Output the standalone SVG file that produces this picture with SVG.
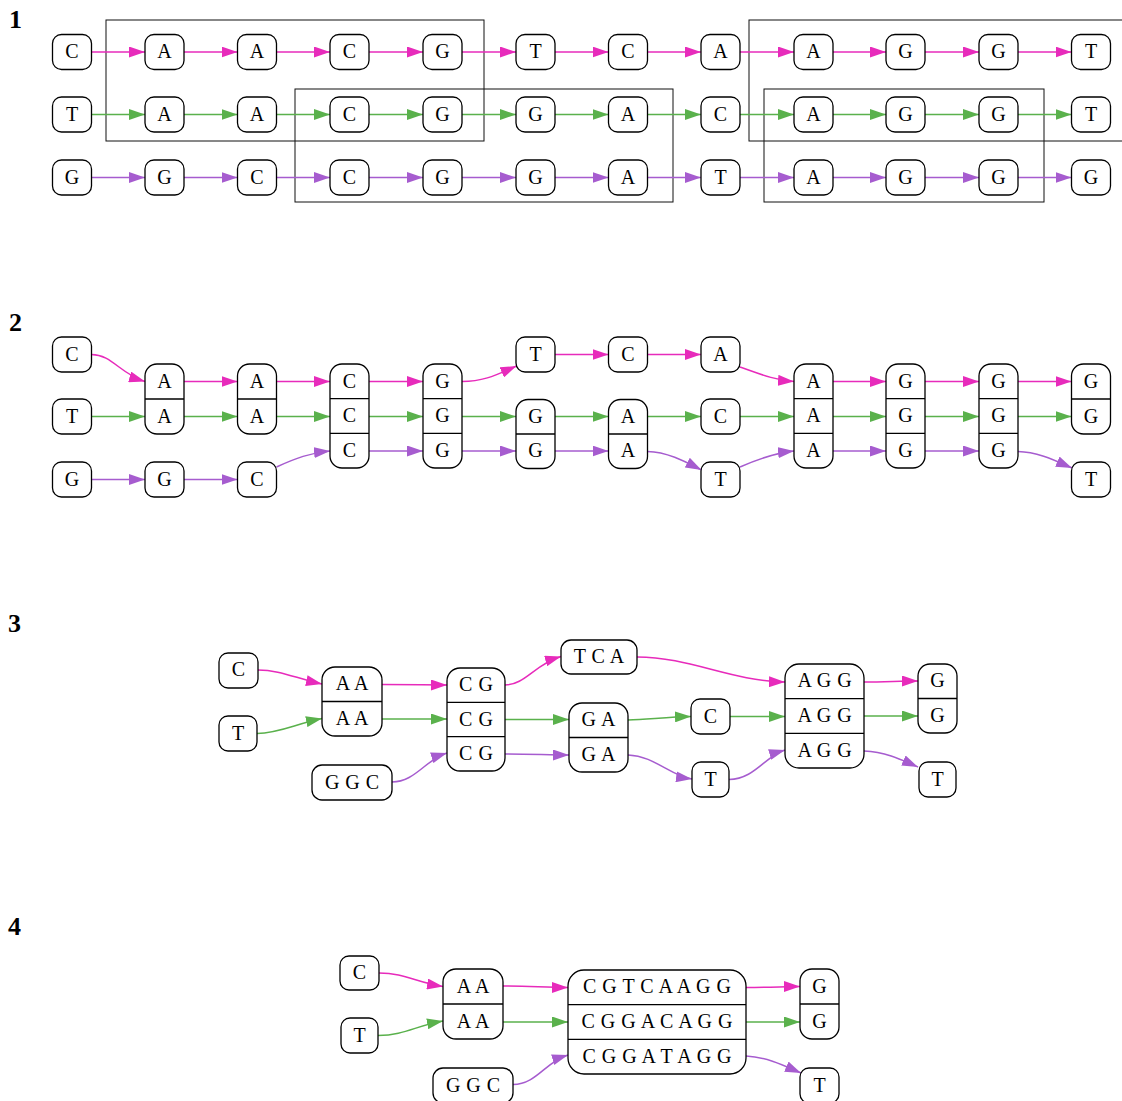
<svg xmlns="http://www.w3.org/2000/svg" width="1122" height="1101" viewBox="0 0 1122 1101">
<style>
.n rect{fill:#fff;stroke:#000;stroke-width:1.3}
.n line{stroke:#000;stroke-width:1.3}
text{font-family:"Liberation Serif","Times New Roman",serif;font-size:20px;text-anchor:middle;fill:#000;word-spacing:1px}
.n text{transform:translateY(-1px)}
.lbl{font-weight:bold;font-size:26px;text-anchor:start}
.box{fill:none;stroke:#111;stroke-width:1}
.e path{fill:none;stroke-width:1.5}
.m{stroke:#e72bbb;marker-end:url(#am)}
.g{stroke:#5ab14c;marker-end:url(#ag)}
.p{stroke:#a65ccf;marker-end:url(#ap)}
</style>
<defs>
<marker id="am" markerWidth="16" markerHeight="11" refX="16" refY="5.5" orient="auto" markerUnits="userSpaceOnUse"><path d="M0,0 L16,5.5 L0,11 z" fill="#e72bbb"/></marker>
<marker id="ag" markerWidth="16" markerHeight="11" refX="16" refY="5.5" orient="auto" markerUnits="userSpaceOnUse"><path d="M0,0 L16,5.5 L0,11 z" fill="#5ab14c"/></marker>
<marker id="ap" markerWidth="16" markerHeight="11" refX="16" refY="5.5" orient="auto" markerUnits="userSpaceOnUse"><path d="M0,0 L16,5.5 L0,11 z" fill="#a65ccf"/></marker>
</defs>
<rect width="1122" height="1101" fill="#fff"/>

<g id="labels">
<text class="lbl" x="9" y="28">1</text>
<text class="lbl" x="9" y="331">2</text>
<text class="lbl" x="8" y="632">3</text>
<text class="lbl" x="8" y="935">4</text>
</g>

<g id="clusters">
<rect class="box" x="106" y="20" width="378" height="121"/>
<rect class="box" x="295" y="89" width="378" height="113"/>
<rect class="box" x="749" y="20" width="380" height="121"/>
<rect class="box" x="764" y="89" width="280" height="113"/>
</g>

<g id="connectors" class="e">
<!-- section 1 -->
<path class="m" d="M91.5,52H145"/><path class="m" d="M184,52H237.5"/><path class="m" d="M276.5,52H330"/><path class="m" d="M369,52H423"/><path class="m" d="M462,52H516"/><path class="m" d="M555,52H608.5"/><path class="m" d="M647.5,52H701"/><path class="m" d="M740,52H794"/><path class="m" d="M833,52H886"/><path class="m" d="M925,52H979"/><path class="m" d="M1018,52H1071.5"/>
<path class="g" d="M91.5,114.5H145"/><path class="g" d="M184,114.5H237.5"/><path class="g" d="M276.5,114.5H330"/><path class="g" d="M369,114.5H423"/><path class="g" d="M462,114.5H516"/><path class="g" d="M555,114.5H608.5"/><path class="g" d="M647.5,114.5H701"/><path class="g" d="M740,114.5H794"/><path class="g" d="M833,114.5H886"/><path class="g" d="M925,114.5H979"/><path class="g" d="M1018,114.5H1071.5"/>
<path class="p" d="M91.5,177.5H145"/><path class="p" d="M184,177.5H237.5"/><path class="p" d="M276.5,177.5H330"/><path class="p" d="M369,177.5H423"/><path class="p" d="M462,177.5H516"/><path class="p" d="M555,177.5H608.5"/><path class="p" d="M647.5,177.5H701"/><path class="p" d="M740,177.5H794"/><path class="p" d="M833,177.5H886"/><path class="p" d="M925,177.5H979"/><path class="p" d="M1018,177.5H1071.5"/>
<!-- section 2 -->
<path class="m" d="M91.5,354.5C112,354.5 120,374 145,381.5"/>
<path class="m" d="M184,381.5H237.5"/><path class="m" d="M276.5,381.5H330"/><path class="m" d="M369,381.5H423"/>
<path class="m" d="M462,381.5C485,381.5 498,374 516.5,366"/>
<path class="m" d="M555,354.5H608.5"/><path class="m" d="M647.5,354.5H701"/>
<path class="m" d="M740,367C760,374 774,380 794,381.5"/>
<path class="m" d="M833,381.5H886"/><path class="m" d="M925,381.5H979"/><path class="m" d="M1018,381.5H1071.5"/>
<path class="g" d="M91.5,416.5H145"/><path class="g" d="M184,416.5H237.5"/><path class="g" d="M276.5,416.5H330"/><path class="g" d="M369,416.5H423"/><path class="g" d="M462,416.5H516"/><path class="g" d="M555,416.5H608.5"/><path class="g" d="M647.5,416.5H701"/><path class="g" d="M740,416.5H794"/><path class="g" d="M833,416.5H886"/><path class="g" d="M925,416.5H979"/><path class="g" d="M1018,416.5H1071.5"/>
<path class="p" d="M91.5,479.5H145"/><path class="p" d="M184,479.5H237.5"/>
<path class="p" d="M276.5,467C296,458 310,453 330,451"/>
<path class="p" d="M369,451H423"/><path class="p" d="M462,451H516"/><path class="p" d="M555,451H608.5"/>
<path class="p" d="M647.5,451.5C668,452 686,462 701.5,470"/>
<path class="p" d="M740,467C758,459 775,453 794,451"/>
<path class="p" d="M833,451H886"/><path class="p" d="M925,451H979"/>
<path class="p" d="M1018,451.5C1038,452 1056,461 1072,468"/>
<!-- section 3 -->
<path class="m" d="M258,670C280,670 295,678 322,684"/>
<path class="m" d="M382,684.5C405,684.5 425,685 447,685"/>
<path class="m" d="M505,685C525,685 535,664 561,656.5"/>
<path class="m" d="M637,657C690,657 730,681 785,682"/>
<path class="m" d="M864,682C885,682 900,681 918,681"/>
<path class="g" d="M257,733.5C280,733 295,724 322,718.5"/>
<path class="g" d="M382,719H447"/>
<path class="g" d="M505,719.5H569"/>
<path class="g" d="M628,720C650,719 670,717 691,716.5"/>
<path class="g" d="M730,716.5H785"/>
<path class="g" d="M864,716H918"/>
<path class="p" d="M392,782C415,782 425,760 447,753"/>
<path class="p" d="M505,754C530,754 550,755 569,755"/>
<path class="p" d="M628,755C655,756 670,776 692,779"/>
<path class="p" d="M729,779.5C755,779 765,756 785,750"/>
<path class="p" d="M864,751C885,752 900,759 918,767"/>
<!-- section 4 -->
<path class="m" d="M379,973C405,973 415,982 443,986.5"/>
<path class="m" d="M503,986C530,986 545,987.5 568,987.5"/>
<path class="m" d="M746,987.5C770,987.5 785,986.5 800,986.5"/>
<path class="g" d="M378,1035.5C405,1035 415,1026 443,1021"/>
<path class="g" d="M503,1022H568"/>
<path class="g" d="M746,1022H800"/>
<path class="p" d="M513,1084.5C537,1084 545,1062 568,1055"/>
<path class="p" d="M746,1056C767,1057 785,1066 801,1073"/>
</g>

<!-- ===== Section 1 nodes ===== -->
<g id="s1-r1-c0" class="n"><rect x="52.5" y="34.5" width="39" height="35" rx="9"/><text x="72" y="59">C</text></g>
<g id="s1-r1-c1" class="n"><rect x="145" y="34.5" width="39" height="35" rx="9"/><text x="164.5" y="59">A</text></g>
<g id="s1-r1-c2" class="n"><rect x="237.5" y="34.5" width="39" height="35" rx="9"/><text x="257" y="59">A</text></g>
<g id="s1-r1-c3" class="n"><rect x="330" y="34.5" width="39" height="35" rx="9"/><text x="349.5" y="59">C</text></g>
<g id="s1-r1-c4" class="n"><rect x="423" y="34.5" width="39" height="35" rx="9"/><text x="442.5" y="59">G</text></g>
<g id="s1-r1-c5" class="n"><rect x="516" y="34.5" width="39" height="35" rx="9"/><text x="535.5" y="59">T</text></g>
<g id="s1-r1-c6" class="n"><rect x="608.5" y="34.5" width="39" height="35" rx="9"/><text x="628" y="59">C</text></g>
<g id="s1-r1-c7" class="n"><rect x="701" y="34.5" width="39" height="35" rx="9"/><text x="720.5" y="59">A</text></g>
<g id="s1-r1-c8" class="n"><rect x="794" y="34.5" width="39" height="35" rx="9"/><text x="813.5" y="59">A</text></g>
<g id="s1-r1-c9" class="n"><rect x="886" y="34.5" width="39" height="35" rx="9"/><text x="905.5" y="59">G</text></g>
<g id="s1-r1-c10" class="n"><rect x="979" y="34.5" width="39" height="35" rx="9"/><text x="998.5" y="59">G</text></g>
<g id="s1-r1-c11" class="n"><rect x="1071.5" y="34.5" width="39" height="35" rx="9"/><text x="1091" y="59">T</text></g>

<g id="s1-r2-c0" class="n"><rect x="52.5" y="97" width="39" height="35" rx="9"/><text x="72" y="121.5">T</text></g>
<g id="s1-r2-c1" class="n"><rect x="145" y="97" width="39" height="35" rx="9"/><text x="164.5" y="121.5">A</text></g>
<g id="s1-r2-c2" class="n"><rect x="237.5" y="97" width="39" height="35" rx="9"/><text x="257" y="121.5">A</text></g>
<g id="s1-r2-c3" class="n"><rect x="330" y="97" width="39" height="35" rx="9"/><text x="349.5" y="121.5">C</text></g>
<g id="s1-r2-c4" class="n"><rect x="423" y="97" width="39" height="35" rx="9"/><text x="442.5" y="121.5">G</text></g>
<g id="s1-r2-c5" class="n"><rect x="516" y="97" width="39" height="35" rx="9"/><text x="535.5" y="121.5">G</text></g>
<g id="s1-r2-c6" class="n"><rect x="608.5" y="97" width="39" height="35" rx="9"/><text x="628" y="121.5">A</text></g>
<g id="s1-r2-c7" class="n"><rect x="701" y="97" width="39" height="35" rx="9"/><text x="720.5" y="121.5">C</text></g>
<g id="s1-r2-c8" class="n"><rect x="794" y="97" width="39" height="35" rx="9"/><text x="813.5" y="121.5">A</text></g>
<g id="s1-r2-c9" class="n"><rect x="886" y="97" width="39" height="35" rx="9"/><text x="905.5" y="121.5">G</text></g>
<g id="s1-r2-c10" class="n"><rect x="979" y="97" width="39" height="35" rx="9"/><text x="998.5" y="121.5">G</text></g>
<g id="s1-r2-c11" class="n"><rect x="1071.5" y="97" width="39" height="35" rx="9"/><text x="1091" y="121.5">T</text></g>

<g id="s1-r3-c0" class="n"><rect x="52.5" y="160" width="39" height="35" rx="9"/><text x="72" y="184.5">G</text></g>
<g id="s1-r3-c1" class="n"><rect x="145" y="160" width="39" height="35" rx="9"/><text x="164.5" y="184.5">G</text></g>
<g id="s1-r3-c2" class="n"><rect x="237.5" y="160" width="39" height="35" rx="9"/><text x="257" y="184.5">C</text></g>
<g id="s1-r3-c3" class="n"><rect x="330" y="160" width="39" height="35" rx="9"/><text x="349.5" y="184.5">C</text></g>
<g id="s1-r3-c4" class="n"><rect x="423" y="160" width="39" height="35" rx="9"/><text x="442.5" y="184.5">G</text></g>
<g id="s1-r3-c5" class="n"><rect x="516" y="160" width="39" height="35" rx="9"/><text x="535.5" y="184.5">G</text></g>
<g id="s1-r3-c6" class="n"><rect x="608.5" y="160" width="39" height="35" rx="9"/><text x="628" y="184.5">A</text></g>
<g id="s1-r3-c7" class="n"><rect x="701" y="160" width="39" height="35" rx="9"/><text x="720.5" y="184.5">T</text></g>
<g id="s1-r3-c8" class="n"><rect x="794" y="160" width="39" height="35" rx="9"/><text x="813.5" y="184.5">A</text></g>
<g id="s1-r3-c9" class="n"><rect x="886" y="160" width="39" height="35" rx="9"/><text x="905.5" y="184.5">G</text></g>
<g id="s1-r3-c10" class="n"><rect x="979" y="160" width="39" height="35" rx="9"/><text x="998.5" y="184.5">G</text></g>
<g id="s1-r3-c11" class="n"><rect x="1071.5" y="160" width="39" height="35" rx="9"/><text x="1091" y="184.5">G</text></g>

<!-- ===== Section 2 nodes ===== -->
<g id="s2-c0-C" class="n"><rect x="52.5" y="337" width="39" height="35" rx="9"/><text x="72" y="361.5">C</text></g>
<g id="s2-c0-T" class="n"><rect x="52.5" y="399" width="39" height="35" rx="9"/><text x="72" y="423.5">T</text></g>
<g id="s2-c0-G" class="n"><rect x="52.5" y="462" width="39" height="35" rx="9"/><text x="72" y="486.5">G</text></g>
<g id="s2-c1-AA" class="n"><rect x="145" y="364" width="39" height="70" rx="12"/><line x1="145" y1="399" x2="184" y2="399"/><text x="164.5" y="388.5">A</text><text x="164.5" y="423.5">A</text></g>
<g id="s2-c1-G" class="n"><rect x="145" y="462" width="39" height="35" rx="9"/><text x="164.5" y="486.5">G</text></g>
<g id="s2-c2-AA" class="n"><rect x="237.5" y="364" width="39" height="70" rx="12"/><line x1="237.5" y1="399" x2="276.5" y2="399"/><text x="257" y="388.5">A</text><text x="257" y="423.5">A</text></g>
<g id="s2-c2-C" class="n"><rect x="237.5" y="462" width="39" height="35" rx="9"/><text x="257" y="486.5">C</text></g>
<g id="s2-c3-CCC" class="n"><rect x="330" y="364" width="39" height="104" rx="12"/><line x1="330" y1="398.7" x2="369" y2="398.7"/><line x1="330" y1="433.3" x2="369" y2="433.3"/><text x="349.5" y="388.5">C</text><text x="349.5" y="423">C</text><text x="349.5" y="457.7">C</text></g>
<g id="s2-c4-GGG" class="n"><rect x="423" y="364" width="39" height="104" rx="12"/><line x1="423" y1="398.7" x2="462" y2="398.7"/><line x1="423" y1="433.3" x2="462" y2="433.3"/><text x="442.5" y="388.5">G</text><text x="442.5" y="423">G</text><text x="442.5" y="457.7">G</text></g>
<g id="s2-c5-T" class="n"><rect x="516" y="337" width="39" height="35" rx="9"/><text x="535.5" y="361.5">T</text></g>
<g id="s2-c5-GG" class="n"><rect x="516" y="399.5" width="39" height="69" rx="12"/><line x1="516" y1="434" x2="555" y2="434"/><text x="535.5" y="423.5">G</text><text x="535.5" y="458.2">G</text></g>
<g id="s2-c6-C" class="n"><rect x="608.5" y="337" width="39" height="35" rx="9"/><text x="628" y="361.5">C</text></g>
<g id="s2-c6-AA" class="n"><rect x="608.5" y="399.5" width="39" height="69" rx="12"/><line x1="608.5" y1="434" x2="647.5" y2="434"/><text x="628" y="423.5">A</text><text x="628" y="458.2">A</text></g>
<g id="s2-c7-A" class="n"><rect x="701" y="337" width="39" height="35" rx="9"/><text x="720.5" y="361.5">A</text></g>
<g id="s2-c7-C" class="n"><rect x="701" y="399" width="39" height="35" rx="9"/><text x="720.5" y="423.5">C</text></g>
<g id="s2-c7-T" class="n"><rect x="701" y="462" width="39" height="35" rx="9"/><text x="720.5" y="486.5">T</text></g>
<g id="s2-c8-AAA" class="n"><rect x="794" y="364" width="39" height="104" rx="12"/><line x1="794" y1="398.7" x2="833" y2="398.7"/><line x1="794" y1="433.3" x2="833" y2="433.3"/><text x="813.5" y="388.5">A</text><text x="813.5" y="423">A</text><text x="813.5" y="457.7">A</text></g>
<g id="s2-c9-GGG" class="n"><rect x="886" y="364" width="39" height="104" rx="12"/><line x1="886" y1="398.7" x2="925" y2="398.7"/><line x1="886" y1="433.3" x2="925" y2="433.3"/><text x="905.5" y="388.5">G</text><text x="905.5" y="423">G</text><text x="905.5" y="457.7">G</text></g>
<g id="s2-c10-GGG" class="n"><rect x="979" y="364" width="39" height="104" rx="12"/><line x1="979" y1="398.7" x2="1018" y2="398.7"/><line x1="979" y1="433.3" x2="1018" y2="433.3"/><text x="998.5" y="388.5">G</text><text x="998.5" y="423">G</text><text x="998.5" y="457.7">G</text></g>
<g id="s2-c11-GG" class="n"><rect x="1071.5" y="364" width="39" height="70" rx="12"/><line x1="1071.5" y1="399" x2="1110.5" y2="399"/><text x="1091" y="388.5">G</text><text x="1091" y="423.5">G</text></g>
<g id="s2-c11-T" class="n"><rect x="1071.5" y="462" width="39" height="35" rx="9"/><text x="1091" y="486.5">T</text></g>

<!-- ===== Section 3 nodes ===== -->
<g id="s3-C" class="n"><rect x="219" y="653" width="39" height="35" rx="9"/><text x="238.5" y="677">C</text></g>
<g id="s3-T" class="n"><rect x="219" y="716" width="38" height="35" rx="9"/><text x="238" y="740.5">T</text></g>
<g id="s3-GGC" class="n"><rect x="312" y="765" width="80" height="35" rx="10"/><text x="352" y="789.5">G G C</text></g>
<g id="s3-AA" class="n"><rect x="322" y="667" width="60" height="69" rx="13"/><line x1="322" y1="701.5" x2="382" y2="701.5"/><text x="352" y="691.3">A A</text><text x="352" y="725.8">A A</text></g>
<g id="s3-CG" class="n"><rect x="447" y="668" width="58" height="103" rx="13"/><line x1="447" y1="702.3" x2="505" y2="702.3"/><line x1="447" y1="736.7" x2="505" y2="736.7"/><text x="476" y="692">C G</text><text x="476" y="726.5">C G</text><text x="476" y="761">C G</text></g>
<g id="s3-TCA" class="n"><rect x="561" y="640" width="76" height="34" rx="10"/><text x="599" y="664">T C A</text></g>
<g id="s3-GA" class="n"><rect x="569" y="703" width="59" height="69" rx="13"/><line x1="569" y1="737.5" x2="628" y2="737.5"/><text x="598.5" y="727">G A</text><text x="598.5" y="762">G A</text></g>
<g id="s3-C2" class="n"><rect x="691" y="699" width="39" height="35" rx="9"/><text x="710.5" y="723.5">C</text></g>
<g id="s3-T2" class="n"><rect x="692" y="762" width="37" height="35" rx="9"/><text x="710.5" y="786.5">T</text></g>
<g id="s3-AGG" class="n"><rect x="785" y="664" width="79" height="104" rx="14"/><line x1="785" y1="698.7" x2="864" y2="698.7"/><line x1="785" y1="733.3" x2="864" y2="733.3"/><text x="824.5" y="688.3">A G G</text><text x="824.5" y="723">A G G</text><text x="824.5" y="757.7">A G G</text></g>
<g id="s3-GG" class="n"><rect x="918" y="664" width="39" height="69" rx="12"/><line x1="918" y1="698.5" x2="957" y2="698.5"/><text x="937.5" y="688">G</text><text x="937.5" y="723">G</text></g>
<g id="s3-T3" class="n"><rect x="919" y="762" width="37" height="35" rx="9"/><text x="937.5" y="786.5">T</text></g>

<!-- ===== Section 4 nodes ===== -->
<g id="s4-C" class="n"><rect x="340" y="956" width="39" height="34" rx="9"/><text x="359.5" y="980">C</text></g>
<g id="s4-T" class="n"><rect x="341" y="1018" width="37" height="35" rx="9"/><text x="359.5" y="1042.5">T</text></g>
<g id="s4-GGC" class="n"><rect x="433" y="1068" width="80" height="35" rx="10"/><text x="473" y="1092.5">G G C</text></g>
<g id="s4-AA" class="n"><rect x="443" y="969" width="60" height="70" rx="13"/><line x1="443" y1="1004" x2="503" y2="1004"/><text x="473" y="993.5">A A</text><text x="473" y="1028.5">A A</text></g>
<g id="s4-big" class="n"><rect x="568" y="970" width="178" height="104" rx="16"/><line x1="568" y1="1004.7" x2="746" y2="1004.7"/><line x1="568" y1="1039.3" x2="746" y2="1039.3"/><text x="657" y="994.3">C G T C A A G G</text><text x="657" y="1029">C G G A C A G G</text><text x="657" y="1063.7">C G G A T A G G</text></g>
<g id="s4-GG" class="n"><rect x="800" y="969" width="39" height="70" rx="12"/><line x1="800" y1="1004" x2="839" y2="1004"/><text x="819.5" y="993.5">G</text><text x="819.5" y="1028.5">G</text></g>
<g id="s4-T2" class="n"><rect x="800" y="1068" width="39" height="35" rx="9"/><text x="819.5" y="1092.5">T</text></g>
</svg>
